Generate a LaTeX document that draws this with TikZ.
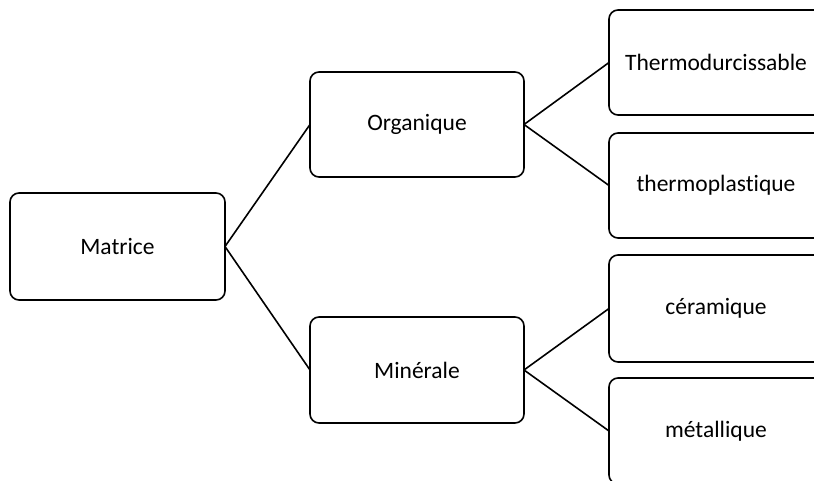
\documentclass[tikz,border=0pt]{standalone}
\usepackage{fontspec}
\setmainfont{Carlito}[Ligatures=NoCommon]
\begin{document}
\begin{tikzpicture}[x=1pt,y=-1pt,
  box/.style={draw, line width=1.6pt, rounded corners=9pt, minimum width=214pt, minimum height=106pt, inner sep=0pt, outer sep=0pt, font=\fontsize{23.5}{26}\selectfont},
  link/.style={line width=1.6pt}]
\useasboundingbox (0,0) rectangle (814,481);
\clip (0,0) rectangle (814,481);
\node[box, minimum width=215pt, minimum height=107pt] (mat) at (117.5,246.5) {Matrice};
\node[box, minimum height=105pt] (org) at (417,124.5) {Organique};
\node[box] (min) at (417,370) {Minérale};
\node[box, minimum height=105pt] (td) at (716,62.5) {Thermodurcissable};
\node[box, minimum height=105pt] (tp) at (716,185.5) {thermoplastique};
\node[box, minimum height=107pt] (cer) at (716,308.5) {céramique};
\node[box] (met) at (716,431) {métallique};
\draw[link] (mat.east) -- (org.west);
\draw[link] (mat.east) -- (min.west);
\draw[link] (org.east) -- (td.west);
\draw[link] (org.east) -- (tp.west);
\draw[link] (min.east) -- (cer.west);
\draw[link] (min.east) -- (met.west);
\end{tikzpicture}
\end{document}
